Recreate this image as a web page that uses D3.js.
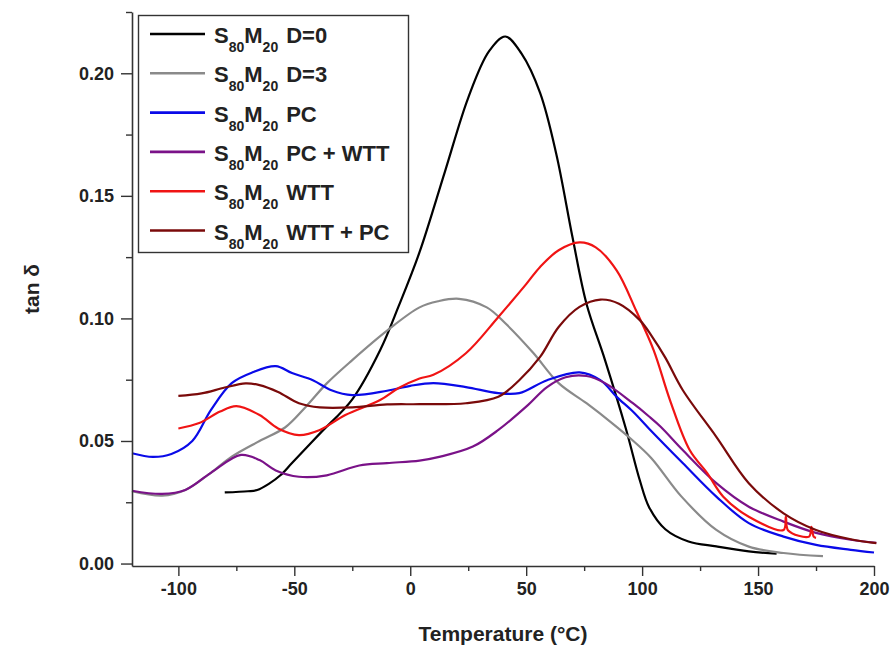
<!DOCTYPE html>
<html>
<head>
<meta charset="utf-8">
<script src="https://cdn.jsdelivr.net/npm/d3@7"></script>
<style>
  body { margin: 0; background: #fff; }
  text { font-family: "Liberation Sans Narrow", "Arial Narrow", "Liberation Sans", Arial, sans-serif; font-weight: bold; fill: #222; }
</style>
</head>
<body>
<svg id="chart"></svg>
<script>
// tan delta vs temperature
let d0 = [[-80,0.029],[-70,0.0295],[-66,0.030],[-61,0.0325],[-56,0.036],[-51,0.041],[-39,0.053],[-25,0.067],[-13,0.087],[-5,0.105],[4,0.127],[15,0.160],[25,0.190],[34,0.209],[41,0.215],[48,0.208],[56,0.192],[63,0.167],[70,0.133],[76,0.106],[84,0.083],[93,0.055],[99,0.034],[103,0.023],[110,0.014],[120,0.009],[132,0.007],[146,0.005],[158,0.004]];
let d3s = [[-120,0.0295],[-107,0.0277],[-97,0.030],[-86,0.037],[-77,0.0436],[-65,0.050],[-54,0.0555],[-45,0.064],[-36,0.0735],[-25,0.083],[-10,0.095],[4,0.1045],[12,0.107],[21,0.108],[33,0.1045],[41,0.098],[53,0.086],[64,0.0736],[76,0.0654],[87,0.0573],[95,0.051],[104,0.043],[117,0.0273],[132,0.0137],[146,0.0069],[161,0.0043],[178,0.003]];
let pc = [[-120,0.045],[-111,0.0435],[-103,0.0447],[-94,0.050],[-86,0.0626],[-77,0.0736],[-68,0.078],[-58,0.0805],[-51,0.0777],[-42,0.0748],[-34,0.0707],[-25,0.0687],[-10,0.0705],[0,0.0725],[10,0.0736],[24,0.072],[38,0.0695],[47,0.0695],[59,0.0748],[73,0.078],[82,0.0748],[89,0.068],[96,0.062],[103,0.055],[117.5,0.041],[132,0.0273],[146,0.0165],[161,0.011],[175,0.0076],[190,0.0056],[200,0.0045]];
let pcWtt = [[-120,0.0297],[-107,0.0284],[-97,0.030],[-86,0.037],[-73,0.0443],[-65,0.0422],[-58,0.038],[-48,0.0354],[-36,0.036],[-22,0.040],[-10,0.041],[4,0.042],[13,0.0436],[27,0.0477],[38,0.0545],[50,0.064],[59,0.072],[67,0.076],[76,0.0765],[84,0.0736],[96,0.0654],[103,0.060],[108,0.0558],[117.5,0.0463],[132,0.0328],[146,0.0232],[161,0.0171],[175,0.0125],[190,0.0097],[201,0.0084]];
let wtt = [[-100,0.0551],[-91,0.0573],[-82,0.062],[-75,0.0642],[-65,0.0606],[-57,0.0551],[-48,0.0524],[-39,0.0545],[-28,0.0606],[-13,0.0667],[-5,0.0716],[4,0.0755],[10,0.077],[24,0.0858],[38,0.1006],[50,0.114],[56,0.121],[64,0.1278],[73,0.131],[80,0.129],[89,0.1196],[97.5,0.103],[105,0.087],[112,0.0667],[120.5,0.0463],[128,0.037],[135,0.0273],[146,0.0191],[161,0.0137],[162,0.019],[163,0.0135],[172,0.011],[173,0.015],[174,0.011],[175,0.0105]];
let wttPc = [[-100,0.0684],[-90,0.0694],[-80,0.0718],[-71,0.0735],[-65,0.0728],[-57,0.070],[-48,0.0654],[-39,0.0637],[-25,0.0637],[-10,0.0649],[4,0.065],[24,0.0654],[38,0.068],[47,0.0748],[56,0.0843],[64,0.0965],[73,0.1047],[82,0.1077],[90,0.106],[99,0.0993],[104,0.093],[110,0.084],[117.5,0.0708],[132,0.0517],[146,0.0328],[161,0.0205],[175,0.0137],[190,0.0099],[201,0.0083]];

let seriesNames = ["D=0", "D=3", "PC", "PC + WTT", "WTT", "WTT + PC"];
let seriesData = [d0, d3s, pc, pcWtt, wtt, wttPc];
let seriesColors = ["#000000", "#8a8a8a", "#0a0ae8", "#7a1288", "#f01414", "#7a0a0a"];

let xMajor = [-100, -50, 0, 50, 100, 150, 200];
let xMinor = [-75, -25, 25, 75, 125, 175];
let yMajor = [0, 0.05, 0.10, 0.15, 0.20];
let yMinor = [0.025, 0.075, 0.125, 0.175, 0.225];

let width = 893, height = 650;
let svg = d3.select("#chart").attr("width", width).attr("height", height);
svg.append("rect").attr("width", width).attr("height", height).attr("fill", "#fff");

let x = d3.scaleLinear().domain([-120, 200]).range([132, 874]);
let y = d3.scaleLinear().domain([-0.001, 0.225]).range([566, 12]);

// curves
let line = d3.line()
  .x((d) => x(d[0]))
  .y((d) => y(d[1]))
  .curve(d3.curveCatmullRom.alpha(0.5));

svg.selectAll(".curve")
  .data(seriesData)
  .enter()
  .append("path")
  .attr("class", "curve")
  .attr("d", line)
  .attr("fill", "none")
  .attr("stroke", (d, i) => seriesColors[i])
  .attr("stroke-width", 2.2)
  .attr("stroke-linejoin", "round");

// axes
let axisColor = "#333";
svg.append("g").attr("transform", "translate(0,566)")
  .call(d3.axisBottom(x).tickValues(xMajor).tickSize(10).tickPadding(6).tickSizeOuter(0).tickFormat((d) => String(d)));
svg.append("g").attr("transform", "translate(0,566)")
  .call(d3.axisBottom(x).tickValues(xMinor).tickSize(5).tickFormat("").tickSizeOuter(0))
  .select(".domain").remove();
svg.append("g").attr("transform", "translate(132,0)")
  .call(d3.axisLeft(y).tickValues(yMajor).tickSize(11).tickPadding(7).tickFormat(d3.format(".2f")).tickSizeOuter(0));
svg.append("g").attr("transform", "translate(132,0)")
  .call(d3.axisLeft(y).tickValues(yMinor).tickSize(6).tickFormat("").tickSizeOuter(0))
  .select(".domain").remove();

svg.selectAll(".domain").attr("stroke", axisColor).attr("stroke-width", 1.6);
svg.selectAll(".tick line").attr("stroke", axisColor).attr("stroke-width", 1.4);
svg.selectAll(".tick text").attr("font-size", 18).style("fill", "#222")
  .style("font-family", '"Liberation Sans Narrow", "Arial Narrow", "Liberation Sans", Arial, sans-serif')
  .style("font-weight", "bold");

// axis titles
svg.append("text")
  .attr("x", 503).attr("y", 641)
  .attr("text-anchor", "middle")
  .attr("font-size", 21)
  .text("Temperature (°C)");
svg.append("text")
  .attr("transform", "translate(39,289) rotate(-90)")
  .attr("text-anchor", "middle")
  .attr("font-size", 21)
  .text("tan δ");

// legend
let legend = svg.append("g");
legend.append("rect")
  .attr("x", 138.5).attr("y", 15.5)
  .attr("width", 270).attr("height", 237)
  .attr("fill", "#fff").attr("stroke", "#333").attr("stroke-width", 1.4);

let rows = legend.selectAll(".row")
  .data(seriesNames)
  .enter()
  .append("g")
  .attr("class", "row")
  .attr("transform", (d, i) => `translate(0,${34 + i * 39.3})`);

rows.append("line")
  .attr("x1", 150).attr("x2", 205)
  .attr("stroke", (d, i) => seriesColors[i])
  .attr("stroke-width", 2.6);

let lt = rows.append("text")
  .attr("x", 214).attr("y", 9)
  .attr("font-size", 22);
lt.append("tspan").text("S");
lt.append("tspan").attr("dy", 9).attr("font-size", 14).text("80");
lt.append("tspan").attr("dy", -9).text("M");
lt.append("tspan").attr("dy", 9).attr("font-size", 14).text("20");
lt.append("tspan").attr("dy", -9).attr("dx", 8).text((d) => d);
</script>
</body>
</html>
